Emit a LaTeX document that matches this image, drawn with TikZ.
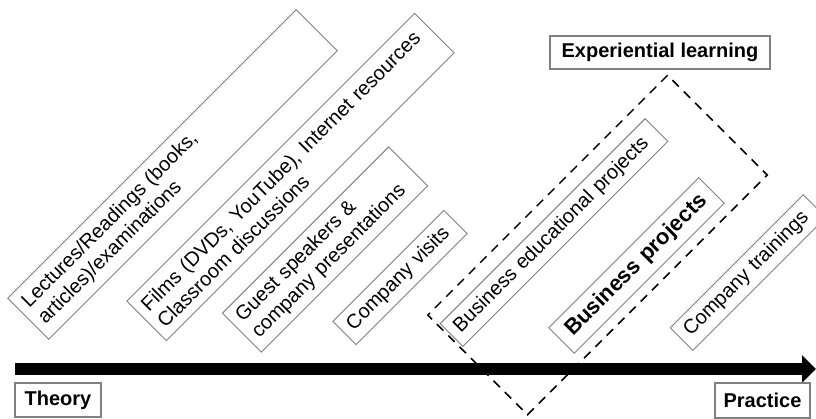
\documentclass[tikz,border=0pt]{standalone}
\usepackage{fontspec}
\setmainfont{Liberation Sans}
\usetikzlibrary{arrows.meta}
\definecolor{boxgray}{gray}{0.5}

\begin{document}
\begin{tikzpicture}[
  x=1pt,y=-1pt,
  stage/.style={draw=boxgray,line width=0.9pt,rotate=45,align=left,inner xsep=8pt,inner ysep=0pt,font=\fontsize{20}{23}\selectfont},
  tag/.style={draw=boxgray,line width=1.3pt,inner sep=0pt,font=\fontsize{20}{23}\selectfont\bfseries},
  zone/.style={draw,line width=1.5pt,dash pattern=on 9pt off 7pt,rotate=45},
  axis/.style={line width=12pt,-{Triangle[length=14pt,width=27pt]}}
]
\useasboundingbox (0,0) rectangle (816,418);

% teaching methods, from theory to practice
\node[stage,text width=392pt,minimum height=58pt] (lectures) at (172.5,174.5) {Lectures/Readings (books,\\articles)/examinations};
\node[stage,text width=391pt,minimum height=56pt] (films) at (290.5,177) {Films (DVDs, YouTube), Internet resources\\Classroom discussions};
\node[stage,text width=219pt,minimum height=55pt] (guests) at (325,249.5) {Guest speakers \&\\company presentations};
\node[stage,text width=141pt,minimum height=33pt] (visits) at (400,277.5) {Company visits};
\node[stage,text width=274pt,minimum height=32pt] (eduprojects) at (554,232.5) {Business educational projects};
\node[stage,text width=196pt,minimum height=36pt,align=center,font=\fontsize{22}{25}\selectfont\bfseries] (bizprojects) at (636.5,265.5) {Business projects};
\node[stage,text width=172pt,minimum height=32pt] (trainings) at (748,272.5) {Company trainings};

% experiential learning
\node[zone,minimum width=339pt,minimum height=141pt] (experience) at (597.5,245) {};
\node[tag,minimum width=220pt,minimum height=33pt] (explabel) at (660,52.5) {Experiential learning};

% axis
\coordinate (axisstart) at (15,369);
\coordinate (axisend) at (816,369);
\draw[axis] (axisstart) -- (axisend);
\node[tag,minimum width=86pt,minimum height=34pt] (theory) at (58,400) {Theory};
\node[tag,minimum width=95pt,minimum height=35pt] (practice) at (762.5,400.5) {Practice};
\end{tikzpicture}
\end{document}
